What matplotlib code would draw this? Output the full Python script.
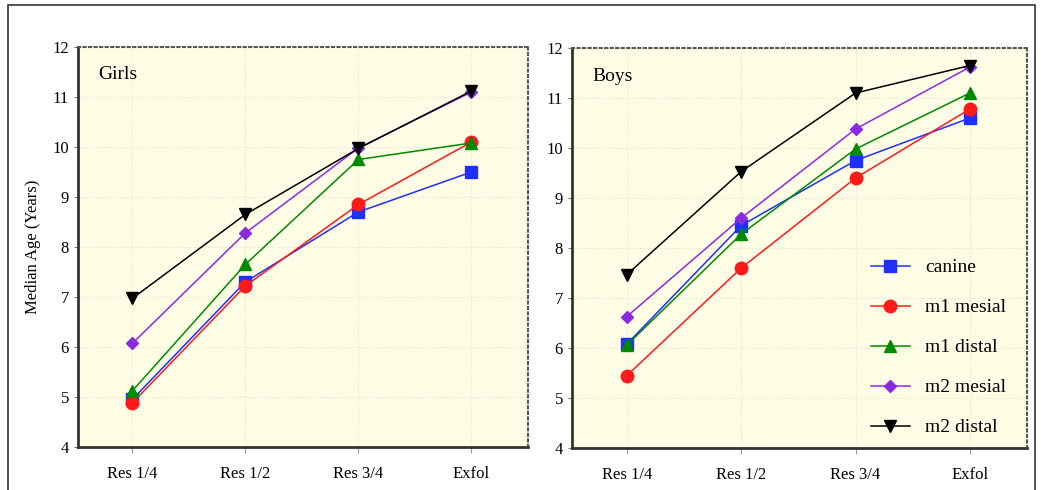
import numpy as np
import matplotlib
matplotlib.use('Agg')
import matplotlib.pyplot as plt
from matplotlib.patches import Rectangle

plt.rcParams['font.family'] = ['Liberation Serif', 'DejaVu Serif']

stages = ['Res 1/4', 'Res 1/2', 'Res 3/4', 'Exfol']
series = ['canine', 'm1 mesial', 'm1 distal', 'm2 mesial', 'm2 distal']

# median ages
girls_canine = [4.95, 7.30, 8.70, 9.50]
girls_m1_mesial = [4.88, 7.22, 8.85, 10.10]
girls_m1_distal = [5.12, 7.65, 9.75, 10.08]
girls_m2_mesial = [6.07, 8.28, 9.98, 11.10]
girls_m2_distal = [6.97, 8.65, 9.97, 11.12]

boys_canine = [6.08, 8.45, 9.75, 10.60]
boys_m1_mesial = [5.45, 7.60, 9.40, 10.78]
boys_m1_distal = [6.06, 8.28, 9.98, 11.10]
boys_m2_mesial = [6.63, 8.60, 10.38, 11.62]
boys_m2_distal = [7.47, 9.53, 11.10, 11.65]

styles = [('#1f2fff', 's'), ('#ff1a1a', 'o'), ('#008a00', '^'),
          ('#8a2be2', 'D'), ('black', 'v')]
msizes = [8, 9, 8, 6, 8]

fig = plt.figure(figsize=(10.41, 4.90), dpi=100)
fig.patches.append(Rectangle((8 / 1041, -0.05), 1027 / 1041, 1.04,
                             transform=fig.transFigure, fill=False,
                             edgecolor='#333333', linewidth=1.2))

ax1 = fig.add_axes([0.0749, 0.0878, 0.4323, 0.8163])
ax2 = fig.add_axes([0.5495, 0.0857, 0.4371, 0.8163])

x = np.arange(len(stages))
panels = [
    (ax1, 'Girls', [girls_canine, girls_m1_mesial, girls_m1_distal, girls_m2_mesial, girls_m2_distal]),
    (ax2, 'Boys', [boys_canine, boys_m1_mesial, boys_m1_distal, boys_m2_mesial, boys_m2_distal]),
]

for ax, title, data in panels:
    ax.set_facecolor('#fffde6')
    for vals, name, (col, mk), ms in zip(data, series, styles, msizes):
        ax.plot(x, vals, color=col, marker=mk, markersize=ms, linewidth=1.1,
                label=name, zorder=3)
    ax.set_xlim(-0.48, 3.5)
    ax.set_ylim(4, 12)
    ax.set_xticks(x)
    ax.set_xticklabels(stages, fontsize=12)
    ax.set_yticks(range(4, 13))
    ax.tick_params(axis='y', labelsize=12, direction='out', length=3, color='#777777')
    ax.tick_params(axis='x', direction='out', length=4, color='#999999', pad=10)
    ax.grid(True, linestyle=':', color='#e4e0cc', linewidth=0.8)
    for s in ['left', 'bottom']:
        ax.spines[s].set_linewidth(2.0)
        ax.spines[s].set_color('#333333')
    for s in ['top', 'right']:
        ax.spines[s].set_linestyle(':')
        ax.spines[s].set_linewidth(1.5)
        ax.spines[s].set_color('#555555')
    ax.text(0.045, 0.93, title, transform=ax.transAxes, fontsize=14,
            ha='left', va='center')

ax1.set_ylabel('Median Age (Years)', fontsize=12, labelpad=8)

ax2.legend(loc='lower right', frameon=False, fontsize=14, handlelength=2.0,
           handletextpad=0.8, labelspacing=1.15, borderaxespad=0.2,
           bbox_to_anchor=(0.98, 0.0))

fig.savefig('out.png', dpi=100)
